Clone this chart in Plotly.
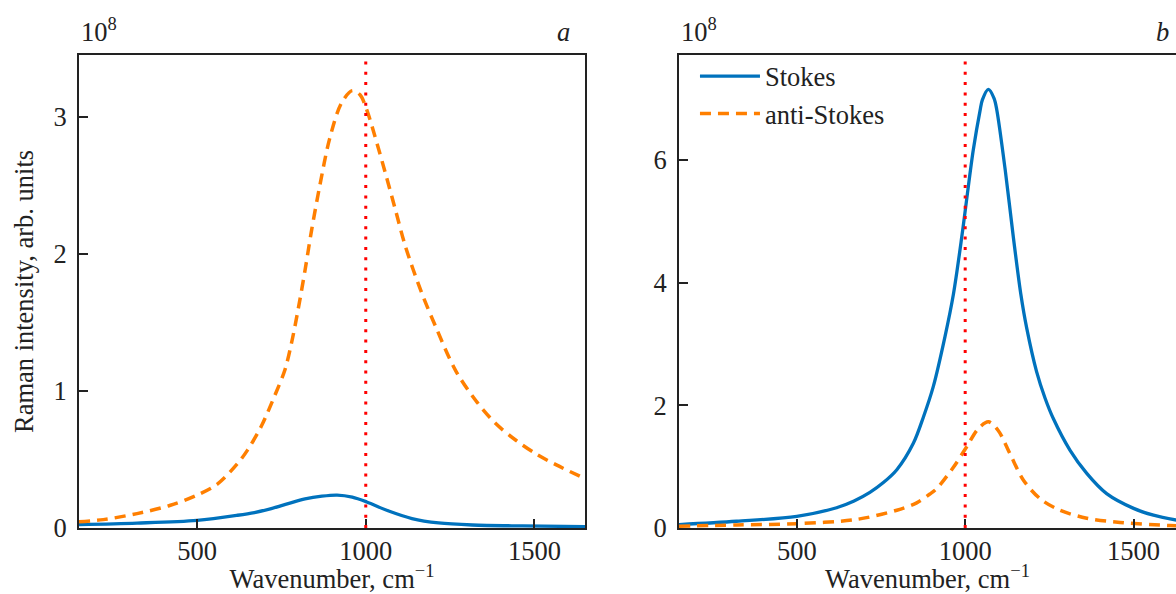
import plotly.graph_objects as go

# ---------------- data, intensities in units of 1e8 ----------------
LASER = 1000  # red dotted reference line, cm^-1

# panel a
a_stokes_x = [150, 322, 500, 620, 670, 720, 770, 820, 870, 915, 960, 1003, 1068, 1137, 1216, 1316, 1465, 1650]
a_stokes_y = [0.025, 0.036, 0.056, 0.093, 0.113, 0.142, 0.178, 0.212, 0.232, 0.24, 0.225, 0.19, 0.124, 0.069, 0.037, 0.022, 0.015, 0.01]

a_anti_x = [150, 222, 322, 421, 500, 560, 620, 650, 690, 731, 760, 780, 800, 820, 840, 864, 893, 928, 960,
            983, 1003, 1028, 1058, 1088, 1118, 1165, 1207, 1266, 1326, 1386, 1445, 1505, 1565, 1650]
a_anti_y = [0.045, 0.061, 0.105, 0.166, 0.24, 0.32, 0.47, 0.57, 0.74, 0.97, 1.15, 1.35, 1.60, 1.88, 2.18, 2.50, 2.84, 3.10, 3.19,
            3.16, 3.05, 2.85, 2.59, 2.32, 2.05, 1.72, 1.47, 1.15, 0.93, 0.76, 0.64, 0.54, 0.46, 0.36]

# panel b
b_stokes_x = [150, 321, 500, 618, 670, 717, 757, 797, 846, 876, 905, 940, 965, 990, 1004, 1024, 1044, 1051, 1069, 1086, 1094, 1119,
              1143, 1165, 1183, 1212, 1237, 1262, 1311, 1361, 1420, 1500, 1559, 1627, 1650]
b_stokes_y = [0.055, 0.11, 0.19, 0.33, 0.44, 0.58, 0.74, 0.95, 1.38, 1.81, 2.30, 3.12, 3.81, 4.75, 5.34, 6.16, 6.80, 6.98, 7.15, 7.00, 6.81, 5.83,
              4.74, 3.82, 3.25, 2.55, 2.12, 1.78, 1.27, 0.89, 0.56, 0.32, 0.21, 0.13, 0.11]

b_anti_x = [150, 322, 500, 678, 797, 856, 894, 915, 965, 1004, 1039, 1069, 1098, 1133, 1173, 1222, 1281, 1361, 1460, 1608, 1650]
b_anti_y = [0.03, 0.05, 0.07, 0.14, 0.29, 0.41, 0.55, 0.64, 0.99, 1.32, 1.62, 1.73, 1.59, 1.21, 0.78, 0.48, 0.29, 0.16, 0.09, 0.04, 0.035]

x_ticks = [500, 1000, 1500]
a_yticks = [0, 1, 2, 3]
b_yticks = [0, 2, 4, 6]

# ---------------- styling ----------------
FONT = "Liberation Serif"
TXT = "#222222"
BLUE = "#0072BD"
ORANGE = "#FF7F00"
FS = 26.5

fig = go.Figure()


def add_panel(xs, ys, xa, ya, show):
    fig.add_trace(go.Scatter(x=xs[0], y=ys[0], mode="lines", name="Stokes",
                             line=dict(color=BLUE, width=3.3, shape="spline", smoothing=0.9),
                             xaxis=xa, yaxis=ya, showlegend=show, legendgroup="s"))
    fig.add_trace(go.Scatter(x=xs[1], y=ys[1], mode="lines", name="anti-Stokes",
                             line=dict(color=ORANGE, width=3.5, dash="11px,7px", shape="spline", smoothing=0.9),
                             xaxis=xa, yaxis=ya, showlegend=show, legendgroup="as"))


add_panel([a_stokes_x, a_anti_x], [a_stokes_y, a_anti_y], "x", "y", False)
add_panel([b_stokes_x, b_anti_x], [b_stokes_y, b_anti_y], "x2", "y2", True)

for xr, yr in (("x", "y"), ("x2", "y2")):
    fig.add_shape(type="line", x0=LASER, x1=LASER, xref=xr, y0=0, y1=1, yref=yr + " domain",
                  line=dict(color="#FF0000", width=3, dash="3px,7.3px"), layer="above")

axis_common = dict(showline=True, linecolor=TXT, linewidth=2, ticks="inside", ticklen=9, tickwidth=1.5,
                   tickcolor=TXT, showgrid=False, zeroline=False,
                   tickfont=dict(family=FONT, size=FS, color=TXT))

xtitle = dict(text="Wavenumber, cm<sup>\u22121</sup>", font=dict(family=FONT, size=FS, color=TXT), standoff=7)

fig.update_layout(
    width=1176, height=594,
    margin=dict(l=79, r=0, t=55, b=66),
    paper_bgcolor="white", plot_bgcolor="white",
    font=dict(family=FONT, size=FS, color=TXT),
    xaxis=dict(domain=[0, 0.4613], range=[150, 1650], tickvals=x_ticks, mirror=True, anchor="y",
               title=xtitle, ticklabelstandoff=-2, automargin=False, **axis_common),
    yaxis=dict(range=[0, 3.45], tickvals=a_yticks, mirror=True, anchor="x",
               title=dict(text="Raman intensity, arb. units", font=dict(family=FONT, size=FS, color=TXT), standoff=12),
               ticklabelstandoff=5, automargin=False, **axis_common),
    xaxis2=dict(domain=[0.5469, 1.0], range=[150, 1626], tickvals=x_ticks, mirror=True, anchor="y2",
                title=xtitle, ticklabelstandoff=-2, automargin=False, **axis_common),
    yaxis2=dict(range=[0, 7.71], tickvals=b_yticks, mirror=False, anchor="x2",
                ticklabelstandoff=5, automargin=False, **axis_common),
    legend=dict(x=0.5615, y=1.0057, xanchor="left", yanchor="top", bgcolor="rgba(0,0,0,0)",
                font=dict(family=FONT, size=FS, color=TXT), tracegroupgap=0, traceorder="grouped",
                itemwidth=60),
)

label_font = dict(family=FONT, size=FS, color=TXT)
fig.add_annotation(text="10<sup>8</sup>", xref="x domain", yref="y domain", x=0, y=1, xanchor="left",
                   yanchor="bottom", yshift=6, showarrow=False, font=label_font)
fig.add_annotation(text="<i>a</i>", xref="x domain", yref="y domain", x=1, y=1, xanchor="right",
                   yanchor="bottom", xshift=-13, yshift=6, showarrow=False, font=label_font)
fig.add_annotation(text="10<sup>8</sup>", xref="x2 domain", yref="y2 domain", x=0, y=1, xanchor="left",
                   yanchor="bottom", yshift=6, showarrow=False, font=label_font)
fig.add_annotation(text="<i>b</i>", xref="x2 domain", yref="y2 domain", x=1, y=1, xanchor="right",
                   yanchor="bottom", xshift=-5, yshift=6, showarrow=False, font=label_font)

fig.write_html("out.html", config={"displayModeBar": False},
               post_script="document.body.style.margin='0';document.body.style.overflow='hidden';")
